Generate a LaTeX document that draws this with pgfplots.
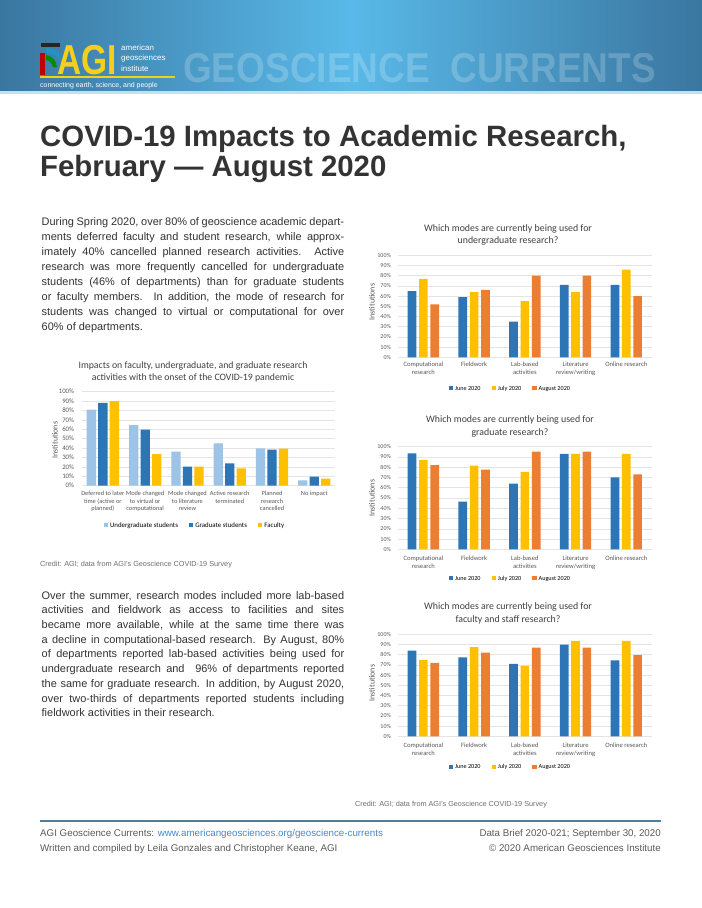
\documentclass[border=0pt]{standalone}
\usepackage{fontspec}
\setmainfont{Liberation Sans}
\newfontfamily\chartfont{Carlito}
\usepackage{graphicx}
\usepackage{pgfplots}
\pgfplotsset{compat=1.18}
\usepackage{pgfplotstable}

\definecolor{bannerdark}{HTML}{3A76A0}
\definecolor{bannerlight}{HTML}{59B9E8}
\definecolor{bannerstripe}{HTML}{BFE2F2}
\definecolor{agiyellow}{HTML}{F4D01C}
\definecolor{bodytext}{HTML}{333333}
\definecolor{ugblue}{HTML}{9DC3E6}
\definecolor{grblue}{HTML}{2E75B6}
\definecolor{facyellow}{HTML}{FFC000}
\definecolor{augorange}{HTML}{ED7D31}
\definecolor{gridc}{HTML}{E4E4E4}
\definecolor{labelc}{HTML}{595959}
\definecolor{titlec}{HTML}{404040}
\definecolor{creditc}{HTML}{6E6E6E}
\definecolor{footc}{HTML}{5A5A5A}
\definecolor{linkc}{HTML}{4A88C8}
\definecolor{rulec}{HTML}{4F7D9C}

% impacts at onset
\pgfplotstableread{
x ug gr fa
0 81 88 90
1 64.5 59.6 33.7
2 36.2 20.2 20.2
3 45 23.8 18.4
4 39.7 38.3 39.4
5 5.7 9.6 7.4
}\impacts

% modes, undergraduate
\pgfplotstableread{
x jun jul aug
0 65 77 52
1 59 64 66
2 35 55 80
3 71 64 80
4 71 86 60
}\undergrad

% modes, graduate
\pgfplotstableread{
x jun jul aug
0 93.5 87 82
1 46.5 81.5 77.5
2 64 75.5 95
3 93 93 95
4 70 93 73
}\graduate

% modes, faculty and staff
\pgfplotstableread{
x jun jul aug
0 84 75 72
1 77.5 87.5 82
2 71 69 87
3 90 93.5 87
4 74.5 93.5 79.5
}\faculty

\pgfplotsset{
  agi/.style={
    scale only axis, anchor=south west,
    ymin=0, ymax=100, enlarge x limits=false, enlarge y limits=false,
    ytick={0,10,...,100},
    yticklabels={0\%,10\%,20\%,30\%,40\%,50\%,60\%,70\%,80\%,90\%,100\%},
    ymajorgrids, grid style={gridc, line width=0.5bp},
    axis line style={draw=none},
    major tick length=0pt,
    yticklabel style={text=labelc, inner sep=0pt, xshift=-7bp},
    xticklabel style={text=labelc, align=center, anchor=north, inner sep=0pt},
    legend style={draw=none, fill=none, legend columns=3, anchor=center,
      nodes={text depth=0pt},
      /tikz/every even column/.append style={column sep=9bp}},
    legend cell align=left,
    clip=false,
  },
  sqleg/.style={legend image code/.code={\fill[##1] (0bp,-2.2bp) rectangle (4.4bp,2.2bp);}},
  modes/.style={agi,
    width=253.7bp, xmin=-0.5, xmax=4.5, xtick={0,...,4},
    ybar=2.6bp, bar width=8.7bp,
    yticklabel style={font=\chartfont\fontsize{6}{7}\selectfont},
    xticklabel style={font=\chartfont\fontsize{6.6}{8}\selectfont, yshift=-4.5bp},
    xticklabels={{Computational\\research},Fieldwork,{Lab-based\\activities},{Literature\\review/writing},{Online research}},
    legend style={font=\chartfont\fontsize{6.2}{7}\selectfont},
  },
}

\begin{document}
\begin{tikzpicture}
\path[use as bounding box, fill=white] (0bp,0bp) rectangle (702bp,-908bp);

\begin{scope}[x=1bp,y=-1bp]
  % banner
  \shade[left color=bannerdark, right color=bannerdark, middle color=bannerlight] (0,0) rectangle (702,91);
  \fill[bannerstripe] (0,91) rectangle (702,94);
  \node[anchor=base west, inner sep=0, text=white, text opacity=0.2] at (183,82)
    {\scalebox{0.886}[1]{\fontsize{41.9}{42}\selectfont\bfseries GEOSCIENCE\ \ CURRENTS}};
  % logo
  \fill[black!85] (41,43) rectangle (60,47);
  \fill[red!75!black] (40,53) rectangle (45,75);
  \fill[grblue!80!cyan] (46,48) .. controls (52,48) and (58,50) .. (60,55) -- (60,61)
    .. controls (56,55) and (51,53) .. (46,53) -- cycle;
  \fill[green!55!black] (46,55) .. controls (52,56) and (56,60) .. (57,67) -- (53,67)
    .. controls (52,63) and (49,60) .. (46,60) -- cycle;
  \node[anchor=base west, inner sep=0, text=agiyellow] at (57,74)
    {\scalebox{0.8}[1]{\fontsize{42}{42}\selectfont\bfseries AGI}};
  \node[anchor=base west, inner sep=0, text=white, font=\fontsize{8}{8}\selectfont] at (121,50) {american};
  \node[anchor=base west, inner sep=0, text=white, font=\fontsize{8}{8}\selectfont] at (121,60.5) {geosciences};
  \node[anchor=base west, inner sep=0, text=white, font=\fontsize{8}{8}\selectfont] at (121,71) {institute};
  \fill[agiyellow] (40,76) rectangle (175,78);
  \node[anchor=base west, inner sep=0, text=white, font=\fontsize{7}{7}\selectfont] at (40,87.5)
    {connecting earth, science, and people};

  % title
  \node[anchor=base west, inner sep=0, text=bodytext, font=\fontsize{29.5}{30}\selectfont\bfseries] at (40,146)
    {COVID-19 Impacts to Academic Research,};
  \node[anchor=base west, inner sep=0, text=bodytext, font=\fontsize{29.5}{30}\selectfont\bfseries] at (40,176)
    {February — August 2020};

  % paragraphs
  \node[anchor=north west, inner sep=0, text width=302.5bp, align=justify, text=bodytext,
    font=\fontsize{11}{15.1}\selectfont] at (41.5,217)
    {During Spring 2020, over 80\% of geoscience academic depart-\linebreak
     ments deferred faculty and student research, while approx-\linebreak
     imately 40\% cancelled planned research activities. Active\linebreak
     research was more frequently cancelled for undergraduate\linebreak
     students (46\% of departments) than for graduate students\linebreak
     or faculty members. In addition, the mode of research for\linebreak
     students was changed to virtual or computational for over\linebreak
     60\% of departments.};
  \node[anchor=north west, inner sep=0, text width=302.5bp, align=justify, text=bodytext,
    font=\fontsize{11}{14.75}\selectfont] at (41.5,591)
    {Over the summer, research modes included more lab-based\linebreak
     activities and fieldwork as access to facilities and sites\linebreak
     became more available, while at the same time there was\linebreak
     a decline in computational-based research. By August, 80\%\linebreak
     of departments reported lab-based activities being used for\linebreak
     undergraduate research and \ 96\% of departments reported\linebreak
     the same for graduate research. In addition, by August 2020,\linebreak
     over two-thirds of departments reported students including\linebreak
     fieldwork activities in their research.};

  % chart titles and y labels
  \node[align=center, text=titlec, font=\chartfont\fontsize{9.8}{12}\selectfont] at (193,372)
    {Impacts on faculty, undergraduate, and graduate research\\activities with the onset of the COVID-19 pandemic};
  \node[align=center, text=titlec, font=\chartfont\fontsize{9.9}{12.5}\selectfont] at (508,235)
    {Which modes are currently being used for\\undergraduate research?};
  \node[align=center, text=titlec, font=\chartfont\fontsize{9.9}{12.5}\selectfont] at (510,426.5)
    {Which modes are currently being used for\\graduate research?};
  \node[align=center, text=titlec, font=\chartfont\fontsize{9.9}{12.5}\selectfont] at (508,613.5)
    {Which modes are currently being used for\\faculty and staff research?};
  \node[rotate=90, text=labelc, font=\chartfont\fontsize{8}{8}\selectfont] at (55,440) {Institutions};
  \node[rotate=90, text=labelc, font=\chartfont\fontsize{8}{8}\selectfont] at (372,302) {Institutions};
  \node[rotate=90, text=labelc, font=\chartfont\fontsize{8}{8}\selectfont] at (372,498) {Institutions};
  \node[rotate=90, text=labelc, font=\chartfont\fontsize{8}{8}\selectfont] at (372,683) {Institutions};

  % credits and footer
  \node[anchor=base west, inner sep=0, text=creditc, font=\fontsize{7.3}{8}\selectfont] at (40,566)
    {Credit: AGI; data from AGI's Geoscience COVID-19 Survey};
  \node[anchor=base west, inner sep=0, text=creditc, font=\fontsize{7.3}{8}\selectfont] at (355,806)
    {Credit: AGI; data from AGI's Geoscience COVID-19 Survey};
  \draw[rulec, line width=1.2] (40,821) -- (661,821);
  \node[anchor=base west, inner sep=0, text=footc, font=\fontsize{9.8}{10}\selectfont] at (40,836)
    {AGI Geoscience Currents: \textcolor{linkc}{www.americangeosciences.org/geoscience-currents}};
  \node[anchor=base east, inner sep=0, text=footc, font=\fontsize{9.8}{10}\selectfont] at (661,836)
    {Data Brief 2020-021; September 30, 2020};
  \node[anchor=base west, inner sep=0, text=footc, font=\fontsize{9.8}{10}\selectfont] at (40,851)
    {Written and compiled by Leila Gonzales and Christopher Keane, AGI};
  \node[anchor=base east, inner sep=0, text=footc, font=\fontsize{9.8}{10}\selectfont] at (661,851)
    {© 2020 American Geosciences Institute};
\end{scope}

% chart 1: impacts at onset
\begin{axis}[agi, at={(81.7bp,-485.7bp)}, width=253.8bp, height=94bp,
  xmin=-0.5, xmax=5.5, xtick={0,...,5},
  ybar=2.2bp, bar width=9.3bp,
  yticklabel style={font=\chartfont\fontsize{6.8}{7}\selectfont, xshift=-0.5bp},
  xticklabel style={font=\chartfont\fontsize{6.4}{7.5}\selectfont, yshift=-5.5bp},
  xticklabels={{Deferred to later\\time (active or\\planned)},{Mode changed\\to virtual or\\computational},
    {Mode changed\\to literature\\review},{Active research\\terminated},{Planned\\research\\cancelled},{No impact}},
  legend style={font=\chartfont\fontsize{6.9}{8}\selectfont, at={(0.446,-0.418)}}]
\addplot[fill=ugblue, draw=none, sqleg] table[x=x, y=ug] {\impacts};
\addplot[fill=grblue, draw=none, sqleg] table[x=x, y=gr] {\impacts};
\addplot[fill=facyellow, draw=none, sqleg] table[x=x, y=fa] {\impacts};
\legend{Undergraduate students, Graduate students, Faculty}
\end{axis}

% chart 2: undergraduate
\begin{axis}[modes, at={(398bp,-357.3bp)}, height=102bp, legend style={at={(0.443,-0.301)}}]
\addplot[fill=grblue, draw=none, sqleg] table[x=x, y=jun] {\undergrad};
\addplot[fill=facyellow, draw=none, sqleg] table[x=x, y=jul] {\undergrad};
\addplot[fill=augorange, draw=none, sqleg] table[x=x, y=aug] {\undergrad};
\legend{June 2020, July 2020, August 2020}
\end{axis}

% chart 3: graduate
\begin{axis}[modes, at={(398bp,-549.3bp)}, height=102.7bp, legend style={at={(0.443,-0.282)}},
  xticklabel style={yshift=-1.5bp}]
\addplot[fill=grblue, draw=none, sqleg] table[x=x, y=jun] {\graduate};
\addplot[fill=facyellow, draw=none, sqleg] table[x=x, y=jul] {\graduate};
\addplot[fill=augorange, draw=none, sqleg] table[x=x, y=aug] {\graduate};
\legend{June 2020, July 2020, August 2020}
\end{axis}

% chart 4: faculty and staff
\begin{axis}[modes, at={(398bp,-736.3bp)}, height=102bp, legend style={at={(0.443,-0.298)}},
  xticklabel style={yshift=-1.5bp}]
\addplot[fill=grblue, draw=none, sqleg] table[x=x, y=jun] {\faculty};
\addplot[fill=facyellow, draw=none, sqleg] table[x=x, y=jul] {\faculty};
\addplot[fill=augorange, draw=none, sqleg] table[x=x, y=aug] {\faculty};
\legend{June 2020, July 2020, August 2020}
\end{axis}
\end{tikzpicture}
\end{document}
